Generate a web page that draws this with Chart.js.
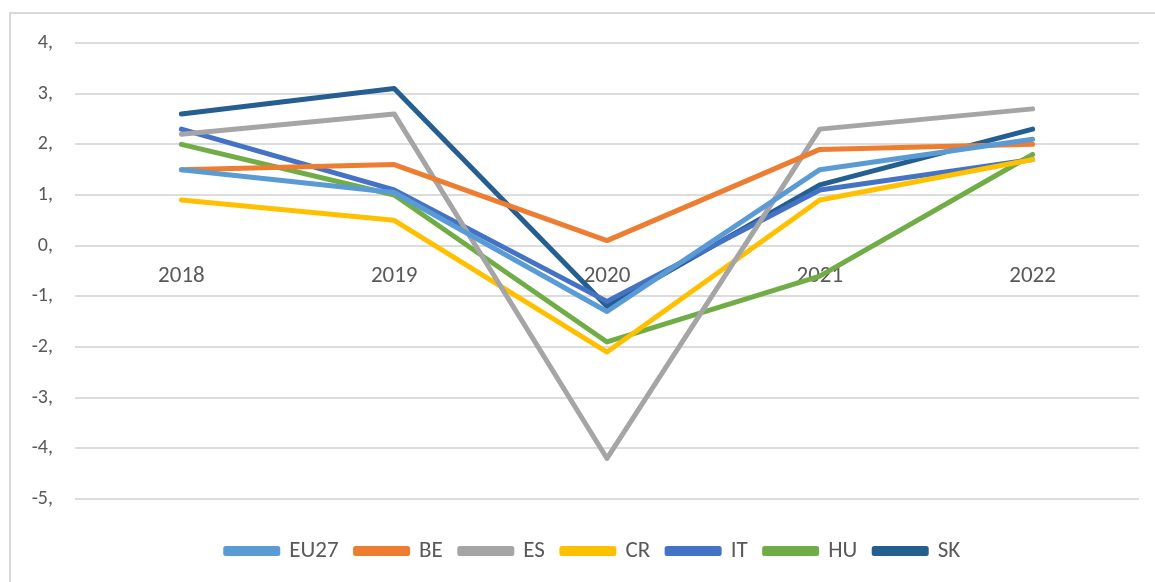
<!DOCTYPE html>
<html>
<head>
<meta charset="utf-8">
<script src="https://cdn.jsdelivr.net/npm/chart.js@4"></script>
<style>
  html, body { margin: 0; padding: 0; background: #ffffff; overflow: hidden; }
  #frame {
    position: absolute; left: 9px; top: 12px; width: 1200px; height: 620px;
    border-left: 2px solid #d9d9d9; border-top: 2px solid #d9d9d9;
  }
  #wrap { position: absolute; left: 0; top: 0; width: 1155px; height: 582px; }
</style>
</head>
<body>
<div id="frame"></div>
<div id="wrap"><canvas id="chart" width="1155" height="582"></canvas></div>
<script>
// categories and series
const YEARS = ["2018", "2019", "2020", "2021", "2022"];

const EU27 = [1.5, 1.05, -1.3, 1.5, 2.1];
const BE = [1.5, 1.6, 0.1, 1.9, 2.0];
const ES = [2.2, 2.6, -4.2, 2.3, 2.7];
const CR = [0.9, 0.5, -2.1, 0.9, 1.7];
const IT = [2.3, 1.1, -1.1, 1.1, 1.7];
const HU = [2.0, 1.0, -1.9, -0.6, 1.8];
const SK = [2.6, 3.1, -1.2, 1.2, 2.3];

const SERIES_NAMES = ["EU27", "BE", "ES", "CR", "IT", "HU", "SK"];
const SERIES_VALUES = [EU27, BE, ES, CR, IT, HU, SK];
const SERIES_COLORS = ["#5b9bd5", "#ed7d31", "#a5a5a5", "#ffc000", "#4472c4", "#70ad47", "#255e91"];

const Y_MIN = -5;
const Y_MAX = 4;

const TEXT_COLOR = "#595959";
const GRID_COLOR = "#dcdcdc";
const FONT_FAMILY = "Carlito, Calibri, 'Liberation Sans', sans-serif";
const Y_FONT = { family: FONT_FAMILY, size: 20 };
const X_FONT = { family: FONT_FAMILY, size: 23 };
const LEGEND_FONT = { family: FONT_FAMILY, size: 23 };

// the legend sits a little right of the canvas centre in the original
const LEGEND_SHIFT = 12;

const legendShift = {
  id: "legendShift",
  afterLayout(chart) {
    chart.legend.left += LEGEND_SHIFT;
    chart.legend.right += LEGEND_SHIFT;
  },
};

const datasets = SERIES_NAMES.map((name, i) => ({
  label: name,
  data: SERIES_VALUES[i],
  borderColor: SERIES_COLORS[i],
  backgroundColor: SERIES_COLORS[i],
  borderWidth: 5,
  borderJoinStyle: "round",
  borderCapStyle: "round",
  pointRadius: 0,
  pointHoverRadius: 0,
  tension: 0,
  fill: false,
}));

new Chart(document.getElementById("chart"), {
  type: "line",
  data: { labels: YEARS, datasets },
  plugins: [legendShift],
  options: {
    responsive: false,
    animation: false,
    events: [],
    layout: { padding: { left: 23, right: 16, top: 43, bottom: 9.5 } },
    plugins: {
      tooltip: { enabled: false },
      legend: {
        position: "bottom",
        labels: {
          color: TEXT_COLOR,
          font: LEGEND_FONT,
          boxWidth: 52,
          boxHeight: 5,
          padding: 17,
        },
      },
    },
    scales: {
      x: {
        type: "category",
        position: { y: 0 },
        offset: true,
        grid: { display: false, drawTicks: false },
        border: { display: false },
        ticks: { color: TEXT_COLOR, font: X_FONT, padding: 17, maxRotation: 0 },
      },
      xGap: {
        type: "category",
        position: "bottom",
        offset: true,
        grid: { display: false, drawTicks: false },
        border: { display: false },
        ticks: { display: false },
        afterFit: (scale) => { scale.height = 23.5; },
      },
      y: {
        min: Y_MIN,
        max: Y_MAX,
        grid: { color: GRID_COLOR, lineWidth: 2, drawTicks: false },
        border: { display: false },
        ticks: {
          stepSize: 1,
          color: TEXT_COLOR,
          font: Y_FONT,
          padding: 22,
          callback: (v) => v + ",",
        },
        afterFit: (scale) => { scale.width = 52; },
      },
    },
  },
});
</script>
</body>
</html>
